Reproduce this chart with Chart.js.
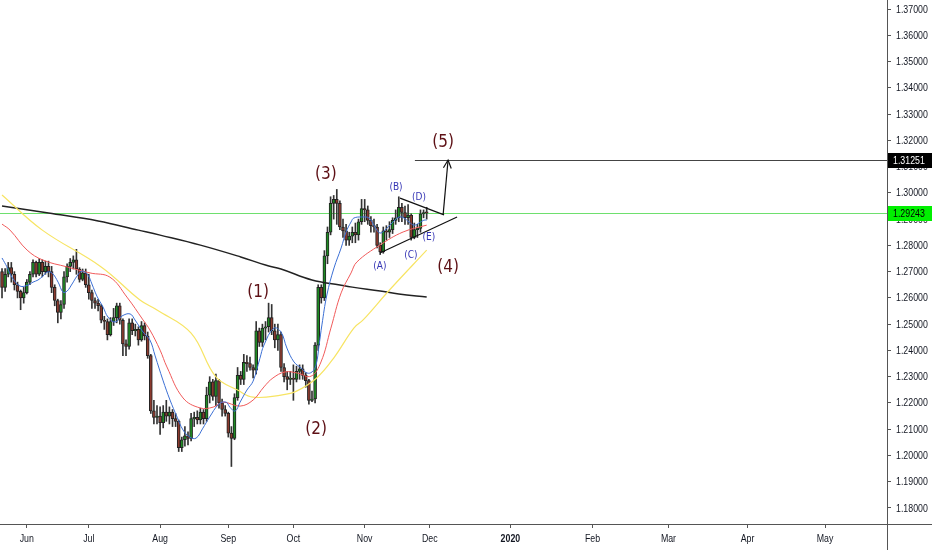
<!DOCTYPE html>
<html>
<head>
<meta charset="utf-8">
<script src="https://cdn.jsdelivr.net/npm/chart.js@4.4.1/dist/chart.umd.min.js"></script>
<style>
  html, body { margin: 0; padding: 0; background: #ffffff; }
  #c { display: block; }
</style>
</head>
<body>
<canvas id="c" width="932" height="550"></canvas>
<script>
// daily candles, bar index 0 = 22 May 2019 ... 137 = 29 Nov 2019
const opens = [
  1.2700, 1.2640, 1.2690, 1.2715, 1.2690, 1.2650, 1.2625, 1.2600, 1.2620, 1.2660,
  1.2690, 1.2735, 1.2690, 1.2735, 1.2700, 1.2720, 1.2700, 1.2640, 1.2590, 1.2545,
  1.2575, 1.2680, 1.2720, 1.2735, 1.2745, 1.2710, 1.2670, 1.2695, 1.2650, 1.2620,
  1.2590, 1.2580, 1.2570, 1.2515, 1.2510, 1.2460, 1.2510, 1.2525, 1.2570, 1.2515,
  1.2425, 1.2415, 1.2505, 1.2475, 1.2480, 1.2440, 1.2495, 1.2455, 1.2380, 1.2170,
  1.2145, 1.2150, 1.2125, 1.2165, 1.2150, 1.2165, 1.2140, 1.2130, 1.2030, 1.2060,
  1.2075, 1.2065, 1.2140, 1.2145, 1.2135, 1.2165, 1.2140, 1.2230, 1.2280, 1.2225,
  1.2285, 1.2200, 1.2175, 1.2160, 1.2085, 1.2065, 1.2220, 1.2305, 1.2290, 1.2355,
  1.2350, 1.2335, 1.2325, 1.2475, 1.2430, 1.2485, 1.2490, 1.2525, 1.2475, 1.2440,
  1.2460, 1.2335, 1.2300, 1.2290, 1.2295, 1.2290, 1.2320, 1.2330, 1.2305, 1.2285,
  1.2210, 1.2215, 1.2420, 1.2640, 1.2600, 1.2760, 1.2850, 1.2960, 1.2975, 1.2960,
  1.2870, 1.2855, 1.2820, 1.2835, 1.2850, 1.2840, 1.2890, 1.2940, 1.2935, 1.2895,
  1.2875, 1.2870, 1.2800, 1.2775, 1.2855, 1.2850, 1.2860, 1.2895, 1.2905, 1.2945,
  1.2925, 1.2905, 1.2915, 1.2830, 1.2860, 1.2865, 1.2920, 1.2925
];
const highs = [
  1.2712, 1.2712, 1.2735, 1.2735, 1.2700, 1.2660, 1.2630, 1.2640, 1.2670, 1.2700,
  1.2745, 1.2740, 1.2750, 1.2745, 1.2740, 1.2740, 1.2720, 1.2650, 1.2595, 1.2590,
  1.2700, 1.2730, 1.2750, 1.2760, 1.2785, 1.2715, 1.2710, 1.2710, 1.2690, 1.2630,
  1.2600, 1.2595, 1.2575, 1.2530, 1.2520, 1.2525, 1.2560, 1.2580, 1.2580, 1.2520,
  1.2440, 1.2520, 1.2520, 1.2500, 1.2490, 1.2510, 1.2505, 1.2470, 1.2385, 1.2210,
  1.2190, 1.2185, 1.2190, 1.2210, 1.2185, 1.2175, 1.2160, 1.2135, 1.2070, 1.2110,
  1.2090, 1.2160, 1.2165, 1.2170, 1.2180, 1.2175, 1.2260, 1.2300, 1.2290, 1.2310,
  1.2290, 1.2215, 1.2190, 1.2165, 1.2110, 1.2235, 1.2335, 1.2320, 1.2385, 1.2380,
  1.2375, 1.2345, 1.2510, 1.2485, 1.2500, 1.2510, 1.2580, 1.2575, 1.2500, 1.2500,
  1.2470, 1.2350, 1.2320, 1.2320, 1.2345, 1.2340, 1.2345, 1.2345, 1.2315, 1.2290,
  1.2245, 1.2430, 1.2650, 1.2650, 1.2780, 1.2870, 1.2985, 1.2990, 1.3013, 1.2970,
  1.2900, 1.2880, 1.2850, 1.2870, 1.2885, 1.2900, 1.2975, 1.2975, 1.2950, 1.2910,
  1.2900, 1.2880, 1.2810, 1.2870, 1.2875, 1.2890, 1.2905, 1.2935, 1.2985, 1.2960,
  1.2950, 1.2955, 1.2920, 1.2885, 1.2880, 1.2935, 1.2935, 1.2945
];
const lows = [
  1.2600, 1.2625, 1.2680, 1.2660, 1.2630, 1.2600, 1.2555, 1.2580, 1.2615, 1.2650,
  1.2680, 1.2680, 1.2685, 1.2680, 1.2690, 1.2680, 1.2620, 1.2570, 1.2505, 1.2520,
  1.2560, 1.2660, 1.2700, 1.2710, 1.2690, 1.2660, 1.2665, 1.2640, 1.2595, 1.2560,
  1.2560, 1.2550, 1.2505, 1.2480, 1.2440, 1.2455, 1.2495, 1.2505, 1.2500, 1.2380,
  1.2380, 1.2405, 1.2460, 1.2455, 1.2420, 1.2435, 1.2440, 1.2370, 1.2160, 1.2120,
  1.2120, 1.2080, 1.2105, 1.2130, 1.2120, 1.2110, 1.2110, 1.2015, 1.2015, 1.2035,
  1.2040, 1.2055, 1.2110, 1.2120, 1.2120, 1.2120, 1.2130, 1.2200, 1.2210, 1.2190,
  1.2180, 1.2150, 1.2150, 1.2070, 1.1958, 1.2060, 1.2210, 1.2270, 1.2270, 1.2320,
  1.2325, 1.2295, 1.2310, 1.2415, 1.2415, 1.2440, 1.2470, 1.2460, 1.2410, 1.2400,
  1.2320, 1.2280, 1.2250, 1.2270, 1.2210, 1.2280, 1.2290, 1.2290, 1.2260, 1.2195,
  1.2205, 1.2200, 1.2400, 1.2580, 1.2590, 1.2730, 1.2840, 1.2900, 1.2880, 1.2860,
  1.2830, 1.2800, 1.2800, 1.2810, 1.2810, 1.2820, 1.2880, 1.2890, 1.2880, 1.2850,
  1.2850, 1.2790, 1.2765, 1.2770, 1.2820, 1.2830, 1.2845, 1.2880, 1.2890, 1.2890,
  1.2880, 1.2880, 1.2820, 1.2825, 1.2830, 1.2850, 1.2905, 1.2900
];
const closes = [
  1.2640, 1.2690, 1.2715, 1.2690, 1.2650, 1.2625, 1.2600, 1.2620, 1.2660, 1.2690,
  1.2735, 1.2690, 1.2735, 1.2700, 1.2720, 1.2700, 1.2640, 1.2590, 1.2545, 1.2575,
  1.2680, 1.2720, 1.2735, 1.2745, 1.2710, 1.2670, 1.2695, 1.2650, 1.2620, 1.2590,
  1.2580, 1.2570, 1.2515, 1.2510, 1.2460, 1.2510, 1.2525, 1.2570, 1.2515, 1.2425,
  1.2415, 1.2505, 1.2475, 1.2480, 1.2440, 1.2495, 1.2455, 1.2380, 1.2170, 1.2145,
  1.2150, 1.2125, 1.2165, 1.2150, 1.2165, 1.2140, 1.2130, 1.2030, 1.2060, 1.2075,
  1.2065, 1.2140, 1.2145, 1.2135, 1.2165, 1.2140, 1.2230, 1.2280, 1.2225, 1.2285,
  1.2200, 1.2175, 1.2160, 1.2085, 1.2065, 1.2220, 1.2305, 1.2290, 1.2355, 1.2350,
  1.2335, 1.2325, 1.2475, 1.2430, 1.2485, 1.2490, 1.2525, 1.2475, 1.2440, 1.2460,
  1.2335, 1.2300, 1.2290, 1.2295, 1.2290, 1.2320, 1.2330, 1.2305, 1.2285, 1.2210,
  1.2215, 1.2420, 1.2640, 1.2600, 1.2760, 1.2850, 1.2960, 1.2975, 1.2960, 1.2870,
  1.2855, 1.2820, 1.2835, 1.2850, 1.2840, 1.2890, 1.2940, 1.2935, 1.2895, 1.2875,
  1.2870, 1.2800, 1.2775, 1.2855, 1.2850, 1.2860, 1.2895, 1.2905, 1.2945, 1.2925,
  1.2905, 1.2915, 1.2830, 1.2860, 1.2865, 1.2920, 1.2925, 1.2924
];

// moving averages: [bar index, price]
const maFast = [
  [0,1.2752],[1.6,1.2718],[3.2,1.2679],[5.8,1.2645],[8.4,1.2649],[10,1.2660],[11.6,1.2668],
  [13.2,1.2683],[14.5,1.2698],[16.1,1.2695],[18.1,1.2660],[19.7,1.2622],[21,1.2626],[22.6,1.2653],
  [24.2,1.2683],[25.8,1.2702],[27.7,1.2687],[29,1.2653],[30.6,1.2607],[32.6,1.2565],[34.2,1.2527],
  [36.5,1.2508],[38.7,1.2531],[41.3,1.2539],[42.9,1.2516],[45.5,1.2470],[47.7,1.2440],[49.4,1.2379],
  [51.9,1.2287],[54.2,1.2211],[56.5,1.2146],[58.4,1.2097],[60.6,1.2070],[62.6,1.2066],[64.8,1.2104],
  [66.8,1.2143],[70,1.2196],[72.3,1.2203],[73.5,1.2184],[75.2,1.2169],[76.8,1.2203],[79,1.2249],
  [81,1.2283],[83.2,1.2370],[84.5,1.2420],[87.7,1.2485],[90,1.2470],[91.9,1.2409],[94.2,1.2356],
  [96.5,1.2333],[98.4,1.2314],[100,1.2318],[101.3,1.2344],[102.3,1.2421],[103.2,1.2497],[104.8,1.2611],
  [107.1,1.2714],[109.4,1.2790],[111,1.2851],[112.6,1.2889],[113.5,1.2904],[116.1,1.2908],[118.4,1.2904],
  [120.3,1.2870],[121.9,1.2847],[123.5,1.2858],[125.8,1.2885],[128.1,1.2908],[129.7,1.2904],[131.3,1.2889],
  [132.9,1.2877],[134.5,1.2885],[136.1,1.2896],[137,1.2896]
];
const maMid = [
  [0,1.2881],[2.6,1.2858],[8.1,1.2782],[13.2,1.2744],[21,1.2718],[28.4,1.2695],[34.8,1.2679],
  [40.3,1.2603],[45.5,1.2516],[47.7,1.2478],[51,1.2401],[53.2,1.2337],[58.4,1.2219],[63.9,1.2181],
  [68.1,1.2184],[71.3,1.2203],[76.8,1.2188],[81,1.2211],[84.5,1.2261],[87.4,1.2295],[91.3,1.2318],
  [95.2,1.2314],[99.7,1.2302],[102.9,1.2356],[106.1,1.2485],[109.4,1.2619],[112.6,1.2695],[114.5,1.2737],
  [121.9,1.2801],[129.4,1.2851],[137,1.2877]
];
const maSlow = [
  [0,1.2992],[13,1.2858],[32,1.2718],[44.5,1.2592],[50,1.2554],[61,1.2466],[69,1.2299],[76,1.2249],
  [81,1.2222],[90,1.2230],[95,1.2245],[101.5,1.2295],[107,1.2371],[113.5,1.2485],[116.5,1.2516],
  [125,1.2630],[137,1.2782]
];
const ma200 = [
  [0,1.2950],[15,1.2923],[31,1.2893],[44,1.2858],[51,1.2839],[64,1.2801],[77,1.2756],[85,1.2725],
  [90,1.2710],[100,1.2668],[109,1.2649],[113,1.2641],[122,1.2626],[128,1.2615],[137,1.2603]
];

// axis ticks
const priceTicks = [1.18,1.19,1.20,1.21,1.22,1.23,1.24,1.25,1.26,1.27,1.28,1.29,1.30,1.31,1.32,1.33,1.34,1.35,1.36,1.37];
const monthTicks = [8, 28, 51, 73, 94, 117, 138, 164, 190.5, 215, 240.5, 265.5];
const monthLabels = ['Jun','Jul','Aug','Sep','Oct','Nov','Dec','2020','Feb','Mar','Apr','May'];

// price markers
const lastPrice = 1.29243;
const targetPrice = 1.31251;
const targetFrom = 133.2;

// Elliott wave annotations
const waveText = ['(1)','(2)','(3)','(4)','(5)'];
const waveIdx = [82.6, 101.3, 104.5, 143.9, 142.3];
const wavePx = [1.2622, 1.2097, 1.3068, 1.2714, 1.3190];
const subText = ['(A)','(B)','(C)','(D)','(E)'];
const subIdx = [121.9, 127.1, 131.9, 134.5, 137.7];
const subPx = [1.2718, 1.3022, 1.2763, 1.2984, 1.2832];
const triUpper = [[128.4,1.2980],[142.6,1.2916]];
const triLower = [[121.9,1.2771],[146.8,1.2908]];
const arrowLine = [[142.3,1.2916],[143.9,1.3125]];

const UP = '#1f8b24', DOWN = '#8b3a2e', EDGE = '#222222';
const AXIS_FONT = "11px 'Liberation Sans', sans-serif";
const SQUEEZE = 0.8;   // axis text is narrow in the original

const bodies = opens.map((o, i) => ({ x: i, y: [o, closes[i]] }));
const wicks = lows.map((l, i) => ({ x: i, y: [l, highs[i]] }));
const bodyColors = opens.map((o, i) => closes[i] >= o ? UP : DOWN);
const pts = arr => arr.map(p => ({ x: p[0], y: p[1] }));

function narrowText(ctx, text, x, y, align) {
  ctx.save();
  ctx.translate(x, y);
  ctx.scale(SQUEEZE, 1);
  ctx.textAlign = align;
  ctx.fillText(text, 0, 0);
  ctx.restore();
}

const overlay = {
  id: 'overlay',
  beforeDatasetsDraw(chart) {
    const { ctx, chartArea: a, scales: { y } } = chart;
    ctx.save();
    ctx.lineWidth = 1;
    ctx.strokeStyle = '#6ee06e';
    const gy = Math.round(y.getPixelForValue(lastPrice)) + 0.5;
    ctx.beginPath(); ctx.moveTo(a.left, gy); ctx.lineTo(a.right, gy); ctx.stroke();
    ctx.restore();
  },
  afterDatasetsDraw(chart) {
    const { ctx, chartArea: a, scales: { x, y } } = chart;
    const P = p => [x.getPixelForValue(p[0]), y.getPixelForValue(p[1])];
    ctx.save();
    // target line
    ctx.strokeStyle = '#444';
    ctx.lineWidth = 1;
    const ty = Math.round(y.getPixelForValue(targetPrice)) + 0.5;
    ctx.beginPath(); ctx.moveTo(x.getPixelForValue(targetFrom), ty); ctx.lineTo(a.right, ty); ctx.stroke();
    // triangle + arrow
    ctx.strokeStyle = '#111';
    ctx.lineWidth = 1.2;
    [triUpper, triLower, arrowLine].forEach(seg => {
      const p0 = P(seg[0]), p1 = P(seg[1]);
      ctx.beginPath(); ctx.moveTo(p0[0], p0[1]); ctx.lineTo(p1[0], p1[1]); ctx.stroke();
    });
    const tip = P(arrowLine[1]), tail = P(arrowLine[0]);
    const ang = Math.atan2(tail[1] - tip[1], tail[0] - tip[0]);
    ctx.beginPath();
    ctx.moveTo(tip[0] + 9 * Math.cos(ang - 0.45), tip[1] + 9 * Math.sin(ang - 0.45));
    ctx.lineTo(tip[0], tip[1]);
    ctx.lineTo(tip[0] + 9 * Math.cos(ang + 0.45), tip[1] + 9 * Math.sin(ang + 0.45));
    ctx.stroke();
    // labels
    ctx.textAlign = 'center';
    ctx.textBaseline = 'middle';
    ctx.fillStyle = '#5d1015';
    ctx.font = "17px 'DejaVu Sans Condensed', sans-serif";
    waveText.forEach((t, i) => ctx.fillText(t, x.getPixelForValue(waveIdx[i]), y.getPixelForValue(wavePx[i])));
    ctx.fillStyle = '#3434b4';
    ctx.font = "10px 'DejaVu Sans Condensed', sans-serif";
    subText.forEach((t, i) => ctx.fillText(t, x.getPixelForValue(subIdx[i]), y.getPixelForValue(subPx[i])));
    ctx.restore();
  },
  afterDraw(chart) {
    const { ctx, chartArea: a, scales: { x, y } } = chart;
    const W = chart.width, H = chart.height;
    ctx.save();
    ctx.strokeStyle = '#555';
    ctx.lineWidth = 1;
    ctx.beginPath();
    ctx.moveTo(0, a.bottom + 0.5); ctx.lineTo(W, a.bottom + 0.5);
    ctx.moveTo(a.right + 0.5, 0); ctx.lineTo(a.right + 0.5, H);
    ctx.stroke();
    // axis labels
    ctx.font = AXIS_FONT;
    ctx.textBaseline = 'middle';
    ctx.fillStyle = '#131722';
    priceTicks.forEach(v => narrowText(ctx, v.toFixed(5), a.right + 9, y.getPixelForValue(v) + 0.5, 'left'));
    monthTicks.forEach((v, i) => {
      ctx.font = (i === 7 ? 'bold ' : '') + AXIS_FONT;
      narrowText(ctx, monthLabels[i], x.getPixelForValue(v), a.bottom + 15, 'center');
    });
    // price badges
    ctx.font = AXIS_FONT;
    const badge = (price, bg, fg) => {
      const py = Math.round(y.getPixelForValue(price));
      ctx.fillStyle = bg;
      ctx.fillRect(a.right + 1, py - 7, W - a.right - 1, 15);
      ctx.fillStyle = fg;
      narrowText(ctx, price.toFixed(5), a.right + 6, py + 0.5, 'left');
    };
    badge(targetPrice, '#000000', '#ffffff');
    badge(lastPrice, '#00f000', '#000000');
    ctx.restore();
  }
};

new Chart(document.getElementById('c'), {
  type: 'bar',
  data: {
    datasets: [
      { type: 'line', data: pts(maFast), borderColor: '#3b6fd4', borderWidth: 1, pointRadius: 0, tension: 0.4, order: 0 },
      { type: 'line', data: pts(maMid), borderColor: '#f05a5a', borderWidth: 1, pointRadius: 0, tension: 0.4, order: 0 },
      { type: 'line', data: pts(maSlow), borderColor: '#f7e463', borderWidth: 1.2, pointRadius: 0, tension: 0.4, order: 0 },
      { type: 'line', data: pts(ma200), borderColor: '#222222', borderWidth: 1.5, pointRadius: 0, tension: 0.4, order: 0 },
      { data: bodies, backgroundColor: bodyColors, borderColor: EDGE, borderWidth: 1, borderSkipped: false,
        barThickness: 3, minBarLength: 1, grouped: false, order: 1 },
      { data: wicks, backgroundColor: '#333333', borderWidth: 0, barThickness: 1, grouped: false, order: 2 }
    ]
  },
  options: {
    responsive: false,
    animation: false,
    layout: { padding: 0 },
    plugins: { legend: { display: false }, tooltip: { enabled: false } },
    scales: {
      x: {
        type: 'linear',
        min: -0.65,
        max: 285.5,
        offset: false,
        grid: { drawOnChartArea: false, offset: false, tickLength: 4, color: '#555' },
        border: { display: false },
        afterBuildTicks: s => { s.ticks = monthTicks.map(v => ({ value: v })); },
        afterFit: s => { s.height = 26; },
        ticks: { display: false }
      },
      y: {
        position: 'right',
        min: 1.173907,
        max: 1.373427,
        grid: { drawOnChartArea: false, tickLength: 4, color: '#555' },
        border: { display: false },
        afterBuildTicks: s => { s.ticks = priceTicks.map(v => ({ value: v })); },
        afterFit: s => { s.width = 45; },
        ticks: { display: false }
      }
    }
  },
  plugins: [overlay]
});
</script>
</body>
</html>
